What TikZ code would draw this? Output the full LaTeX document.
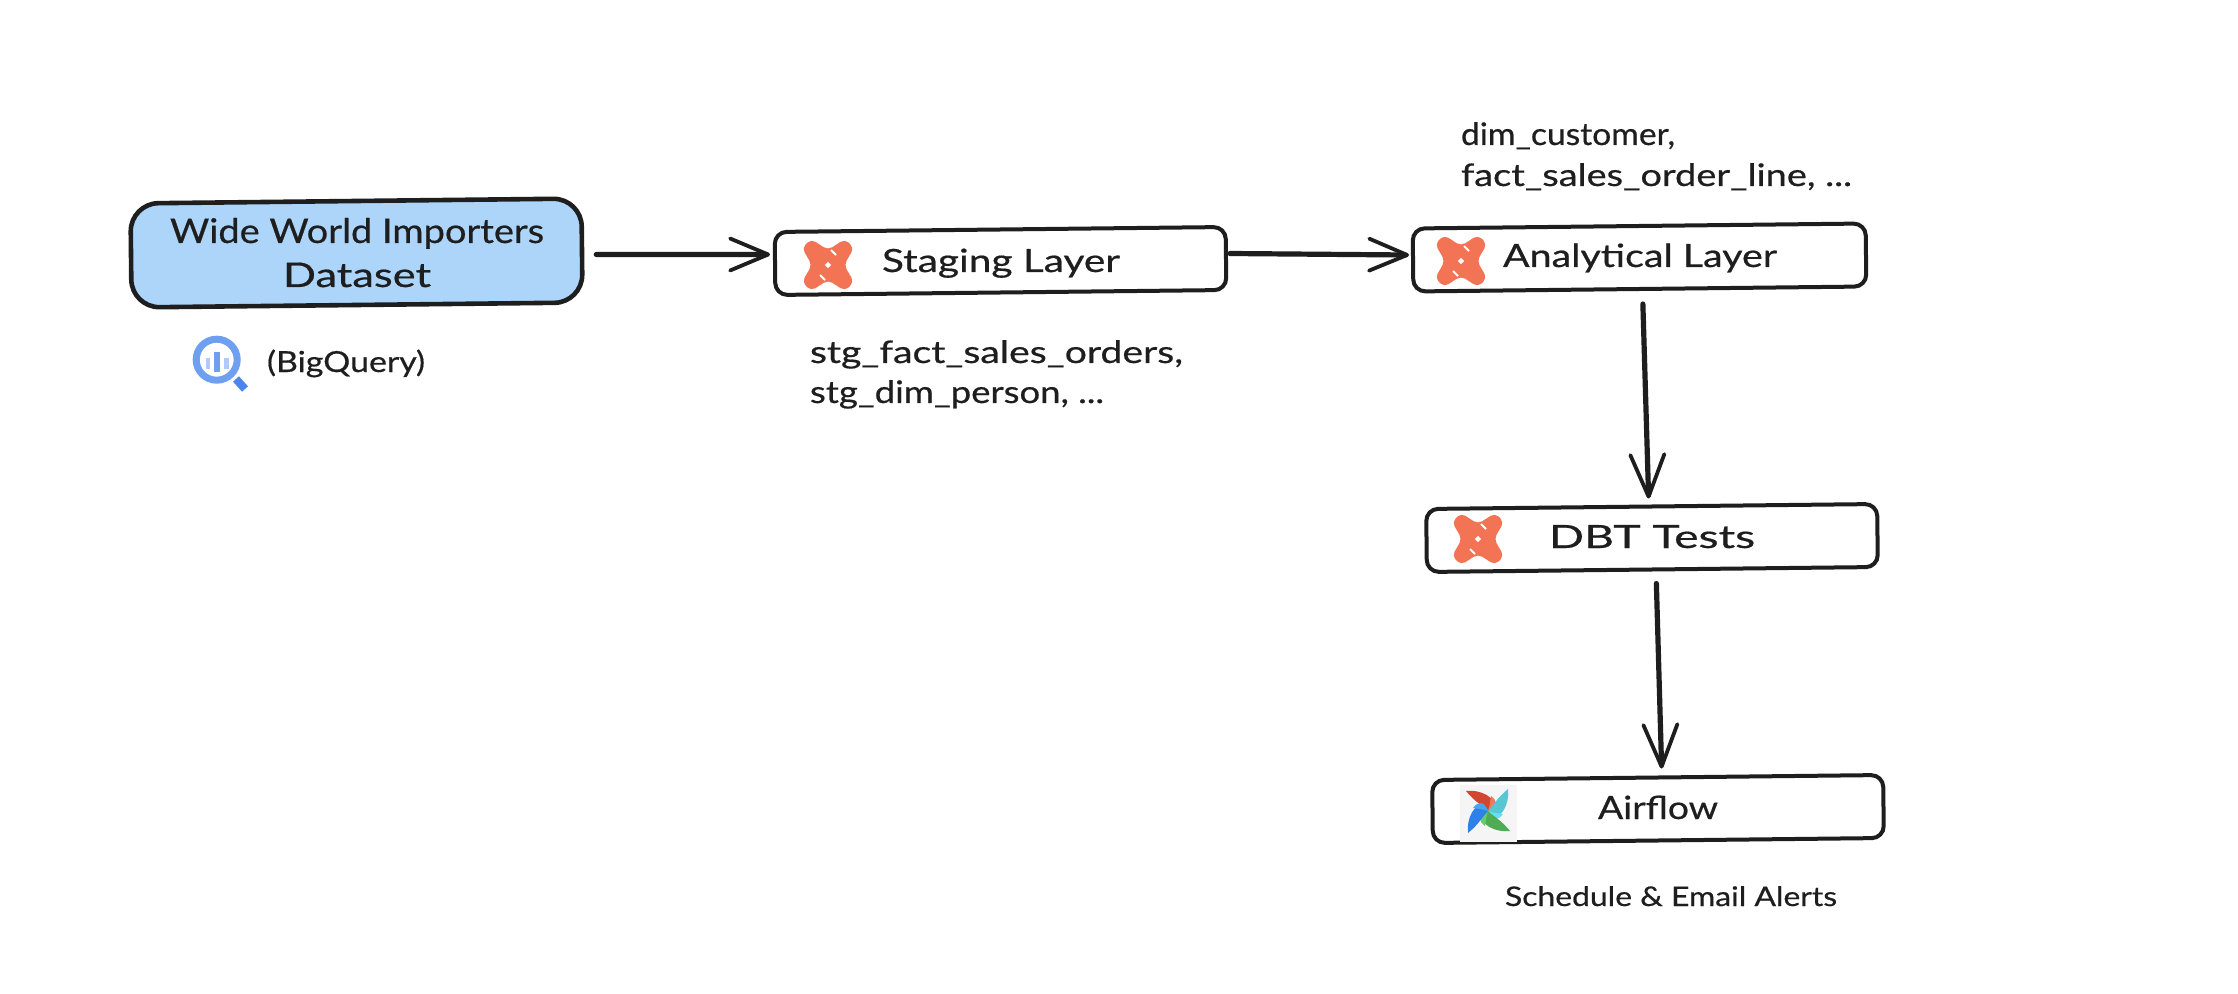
\documentclass[tikz,border=0pt]{standalone}
\usepackage{fontspec}
\setmainfont{Lato}[FakeBold=0.5]
\usetikzlibrary{arrows.meta,calc}
\definecolor{ink}{HTML}{1E1E1E}
\definecolor{skyfill}{HTML}{ADD5FA}
\definecolor{dbtorange}{HTML}{F27455}
\definecolor{bqmid}{HTML}{6F9FF0}
\definecolor{bqlight}{HTML}{AECBFA}
\definecolor{bqdark}{HTML}{4C85EE}
\definecolor{pwred}{HTML}{D1472F}
\definecolor{pwredl}{HTML}{EE7A60}
\definecolor{pwteal}{HTML}{58C6D3}
\definecolor{pwteall}{HTML}{62E0F0}
\definecolor{pwgreen}{HTML}{4FAB56}
\definecolor{pwgreenl}{HTML}{66CC6E}
\definecolor{pwblue}{HTML}{2F80E8}
\definecolor{pwbluel}{HTML}{46A6EE}
\tikzset{
  sketchbox/.style={draw=ink,line width=2pt,rounded corners=6pt,rotate=0.63,fill=white,inner sep=0pt,minimum height=31.5pt,minimum width=225.5pt},
  bluebox/.style={draw=ink,line width=2.3pt,rounded corners=14pt,rotate=0.63,fill=skyfill,inner sep=0pt,minimum height=52pt,minimum width=225.5pt},
  lbl/.style={text=ink,anchor=base west,inner sep=0pt,outer sep=0pt},
  flow/.style={draw=ink,line width=2.6pt,line cap=round,-{Straight Barb[length=19pt,width=16pt,round,line width=1.9pt]}},
  flowv/.style={draw=ink,line width=2.6pt,line cap=round,-{Straight Barb[length=21pt,width=17pt,round,line width=1.9pt]}},
  dbtlogo/.pic={
    \fill[dbtorange,rounded corners=2.5pt] (-26,-17) -- (-17,-26) -- (0,-15) -- (17,-26) -- (26,-17) -- (16,0) -- (26,17) -- (17,26) -- (0,15) -- (-17,26) -- (-26,17) -- (-16,0) -- cycle;
    \fill[white] (-3.2,0) -- (0,-3.2) -- (3.2,0) -- (0,3.2) -- cycle;
    \draw[white,line width=1pt] (3,-15) -- (8,-10) (-8,10) -- (-3,15);
  }
}
\newcommand{\fitw}[3]{\resizebox{#2pt}{\height}{\fontsize{#1}{#1}\selectfont #3}}
\newcommand{\pinblade}[3]{%
  \begin{scope}[rotate=#1]
    \fill[#2] (-22,-20) .. controls (-8,-22) and (11,-13) .. (4,-2) -- (0,0) .. controls (-6,-6) and (-12,-8) .. cycle;
    \fill[#3] (3,-15) .. controls (10,-10) and (9,-4) .. (4,-2) -- (0,0) .. controls (2,-5) and (2,-10) .. cycle;
  \end{scope}}
\begin{document}
\begin{tikzpicture}[x=0.5pt,y=-0.5pt]
\useasboundingbox (0,0) rectangle (2238,994);
\fill[white] (0,0) rectangle (2238,994);

% boxes
\node[bluebox] (wwi) at (356.5,253) {};
\node[sketchbox] (staging) at (1000.5,261) {};
\node[sketchbox,minimum width=226.5pt] (analytical) at (1639.5,257.5) {};
\node[sketchbox] (tests) at (1652,538) {};
\node[sketchbox] (airflow) at (1658,809) {};

% box labels
\node[lbl] (wwit1) at (170,243) {\fitw{17}{187}{Wide World Importers}};
\node[lbl] (wwit2) at (283,287) {\fitw{17}{74}{Dataset}};
\node[lbl] (stagingt) at (882,272) {\fitw{16}{119}{Staging Layer}};
\node[lbl] (analyticalt) at (1503,267) {\fitw{16}{137}{Analytical Layer}};
\node[lbl] (testst) at (1549,548) {\fitw{16}{103}{DBT Tests}};
\node[lbl] (airflowt) at (1598,819) {\fitw{16}{60}{Airflow}};

% side labels
\node[lbl] (bqt) at (267,372) {\fitw{14.5}{79}{(BigQuery)}};
\node[lbl] (stgt1) at (810,363) {\fitw{15.5}{186.5}{stg\_fact\_sales\_orders,}};
\node[lbl] (stgt2) at (810,403) {\fitw{15.5}{147}{stg\_dim\_person, ...}};
\node[lbl] (dimt1) at (1461,145) {\fitw{15.5}{107}{dim\_customer,}};
\node[lbl] (dimt2) at (1461,186) {\fitw{15.5}{195.5}{fact\_sales\_order\_line, ...}};
\node[lbl] (schedt) at (1505,906) {\fitw{13.5}{166}{Schedule \& Email Alerts}};

% connectors
\draw[flow] ($(wwi.east)+(12,4)$) -- ($(staging.west)+(-3,-9)$);
\draw[flow] ($(staging.east)+(2,-5)$) -- ($(analytical.west)+(-2,-5)$);
\draw[flowv] ($(analytical.south)+(3,13)$) -- ($(tests.north)+(-3,-6)$);
\draw[flowv] ($(tests.south)+(4,12)$) -- ($(airflow.north)+(4,-7)$);

% dbt logos
\pic at (828,265) {dbtlogo};
\pic at (1461,261) {dbtlogo};
\pic at (1478,539) {dbtlogo};

% airflow pinwheel
\fill[black!4] (1460,785) rectangle (1517,842);
\begin{scope}[shift={(1488,811)}]
  \pinblade{0}{pwred}{pwredl}
  \pinblade{-90}{pwteal}{pwteall}
  \pinblade{180}{pwgreen}{pwgreenl}
  \pinblade{90}{pwblue}{pwbluel}
\end{scope}

% BigQuery icon
\draw[bqdark,line width=4pt] (236,379) -- (245,389);
\draw[bqmid,line width=3.5pt] (216.7,359.7) circle (20.5);
\fill[bqmid] (214,351.7) rectangle (220,371.7);
\fill[bqlight] (206,358.5) rectangle (210,369.5);
\fill[bqlight] (224,358.5) rectangle (228.5,369.5);
\end{tikzpicture}
\end{document}
